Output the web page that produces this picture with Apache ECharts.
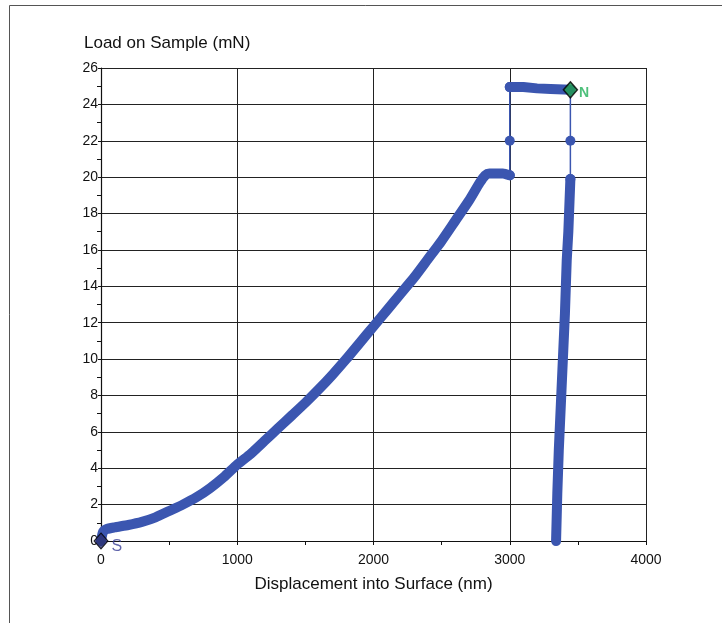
<!DOCTYPE html>
<html><head><meta charset="utf-8">
<script src="https://cdn.jsdelivr.net/npm/echarts@6/dist/echarts.min.js"></script>
<style>html,body{margin:0;padding:0;background:#fff}#c{width:722px;height:623px}</style>
</head><body><div id="c"></div>
<script>
// Loading segment
var loadX = [0, 15, 40, 100, 200, 300, 400, 500, 600, 700, 800, 900, 1000, 1100, 1200, 1300, 1400, 1500, 1600, 1700, 1800, 1900, 2000, 2100, 2200, 2300, 2400, 2500, 2600, 2700, 2780, 2820, 2850, 2950, 3000];
var loadY = [0, 0.5, 0.65, 0.75, 0.88, 1.05, 1.3, 1.65, 2.0, 2.4, 2.9, 3.5, 4.2, 4.8, 5.5, 6.2, 6.9, 7.6, 8.35, 9.15, 10.0, 10.9, 11.8, 12.7, 13.6, 14.5, 15.5, 16.5, 17.6, 18.7, 19.7, 20.1, 20.2, 20.2, 20.1];
// Hold segment
var holdX = [3000, 3100, 3200, 3300, 3445];
var holdY = [24.95, 24.95, 24.88, 24.85, 24.8];
// Unloading segment
var unloadX = [3445, 3430, 3418, 3405, 3390, 3375, 3360, 3349, 3340];
var unloadY = [19.9, 17, 15.4, 12.5, 10, 7.5, 5, 2.6, 0];
// Thin connectors
var jump1X = [3000, 3000, 3000];
var jump1Y = [20.1, 22, 24.95];
var jump2X = [3445, 3445, 3445];
var jump2Y = [24.8, 22, 19.9];
// Markers
var startPt = [0, 0];
var endPt = [3445, 24.8];
// Axis ticks
var xTicks = [0, 1000, 2000, 3000, 4000];
var yTicks = [0, 2, 4, 6, 8, 10, 12, 14, 16, 18, 20, 22, 24, 26];

function zip(a, b) { return a.map(function (v, i) { return [v, b[i]]; }); }
var blue = '#3b56b0';
var font = 'Liberation Sans, Arial, sans-serif';

var chart = echarts.init(document.getElementById('c'));
chart.setOption({
  animation: false,
  backgroundColor: '#fff',
  graphic: [
    { type: 'line', shape: { x1: 9.5, y1: 5.5, x2: 722, y2: 5.5 }, style: { stroke: '#555', lineWidth: 1 } },
    { type: 'line', shape: { x1: 9.5, y1: 5.5, x2: 9.5, y2: 623 }, style: { stroke: '#555', lineWidth: 1 } },
    { type: 'text', left: 84, top: 35, style: { text: 'Load on Sample (mN)', font: '17px ' + font, fill: '#111' } }
  ],
  grid: { left: 101, right: 76, top: 68, bottom: 82 },
  xAxis: {
    type: 'value', min: xTicks[0], max: xTicks[xTicks.length - 1], interval: 1000,
    name: 'Displacement into Surface (nm)', nameLocation: 'middle', nameGap: 35,
    nameTextStyle: { fontSize: 17, color: '#111', fontFamily: font },
    axisLine: { lineStyle: { color: '#111', width: 1.2 } },
    axisTick: { show: true, length: 4, lineStyle: { color: '#111' } },
    minorTick: { show: true, splitNumber: 2, length: 4, lineStyle: { color: '#111' } },
    axisLabel: { fontSize: 14, color: '#111', fontFamily: font, margin: 12, formatter: function (v) { return String(v); } },
    splitLine: { show: true, lineStyle: { color: '#222', width: 1 } }
  },
  yAxis: {
    type: 'value', min: yTicks[0], max: yTicks[yTicks.length - 1], interval: 2,
    axisLine: { lineStyle: { color: '#111', width: 1.2 } },
    axisTick: { show: true, length: 3, lineStyle: { color: '#111' } },
    minorTick: { show: true, splitNumber: 2, length: 4, lineStyle: { color: '#111' } },
    axisLabel: { fontSize: 14, color: '#111', fontFamily: font, margin: 3, formatter: function (v) { return String(v); } },
    splitLine: { show: true, lineStyle: { color: '#222', width: 1 } }
  },
  series: [
    { type: 'line', data: zip(jump1X, jump1Y), showSymbol: true, symbol: 'circle', symbolSize: 10,
      itemStyle: { color: blue }, lineStyle: { color: blue, width: 1.5 }, z: 3 },
    { type: 'line', data: zip(jump2X, jump2Y), showSymbol: true, symbol: 'circle', symbolSize: 10,
      itemStyle: { color: blue }, lineStyle: { color: blue, width: 1.5 }, z: 3 },
    { type: 'line', data: zip(loadX, loadY), showSymbol: false, smooth: 0.2,
      lineStyle: { color: blue, width: 10, cap: 'round', join: 'round' }, z: 4 },
    { type: 'line', data: zip(holdX, holdY), showSymbol: false,
      lineStyle: { color: blue, width: 10, cap: 'round', join: 'round' }, z: 4 },
    { type: 'line', data: zip(unloadX, unloadY), showSymbol: false,
      lineStyle: { color: blue, width: 10, cap: 'round', join: 'round' }, z: 4 },
    { type: 'scatter', data: [startPt], symbol: 'diamond', symbolSize: [14, 16],
      itemStyle: { color: '#2b2f70', borderColor: '#000', borderWidth: 1 }, z: 6,
      label: { show: true, formatter: 'S', position: 'right', offset: [-2, 6], color: '#3a3f96', fontSize: 16, fontFamily: font } },
    { type: 'scatter', data: [endPt], symbol: 'diamond', symbolSize: [14, 16],
      itemStyle: { color: '#1f9e4e', borderColor: '#000', borderWidth: 1.5 }, z: 6,
      label: { show: true, formatter: 'N', position: 'right', offset: [-4, 3], color: '#22b05a', fontSize: 14, fontWeight: 'bold', fontFamily: font } }
  ]
});
</script></body></html>
